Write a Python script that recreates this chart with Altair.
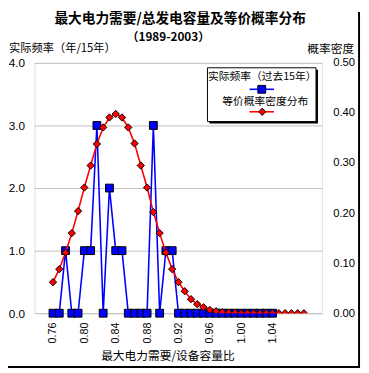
import altair as alt
import pandas as pd

# Category values (ratio of max demand / installed capacity)
ratio = [0.760, 0.768, 0.776, 0.784, 0.792, 0.800, 0.808, 0.816, 0.824, 0.832,
         0.840, 0.848, 0.856, 0.864, 0.872, 0.880, 0.888, 0.896, 0.904, 0.912,
         0.920, 0.928, 0.936, 0.944, 0.952, 0.960, 0.968, 0.976, 0.984, 0.992,
         1.000, 1.008, 1.016, 1.024, 1.032, 1.040, 1.048, 1.056, 1.064, 1.072,
         1.080]

# Actual frequency (years out of 15), first 36 categories
freq = [0, 0, 1, 0, 0, 1, 1, 3, 0, 2, 1, 1, 0, 0, 0, 0, 3, 0, 1, 1,
        0, 0, 0, 0, 0, 0, 0, 0, 0, 0, 0, 0, 0, 0, 0, 0]

# Equivalent probability density
dens = [0.062, 0.088, 0.121, 0.160, 0.204, 0.251, 0.295, 0.338, 0.371, 0.391,
        0.398, 0.391, 0.371, 0.339, 0.295, 0.251, 0.202, 0.160, 0.121, 0.088,
        0.062, 0.044, 0.028, 0.018, 0.012, 0.0065, 0.004, 0.002, 0.001, 0.001,
        0.0, 0.0, 0.0, 0.0, 0.0, 0.0, 0.0, 0.0, 0.0, 0.0, 0.0]

x_ticks = [0.76, 0.80, 0.84, 0.88, 0.92, 0.96, 1.00, 1.04]
left_ticks = [0, 1, 2, 3, 4]
right_ticks = [0.0, 0.1, 0.2, 0.3, 0.4, 0.5]

title_main = "最大电力需要/总发电容量及等价概率分布"
title_sub = "（1989-2003）"
y_left_title = "实际频率（年/15年）"
y_right_title = "概率密度"
x_title = "最大电力需要/设备容量比"
legend_labels = ["实际频率（过去15年）", "等价概率密度分布"]

CJK = "Noto Sans CJK SC"
LAT = "Liberation Sans"

blue_df = pd.DataFrame({"r": ratio[:len(freq)], "freq": freq})
red_df = pd.DataFrame({"r": ratio, "dens": dens})

xscale = alt.Scale(domain=[0.7363, 1.1029], nice=False, zero=False)
xenc = alt.X("r:Q", scale=xscale,
             axis=alt.Axis(values=x_ticks, format=".2f", labelAngle=270,
                           ticks=False, tickSize=0, grid=False, domain=False,
                           labelPadding=9, labelFont=LAT, labelFontSize=11,
                           labelColor="black", title=None, labelFlush=False))

yl = alt.Y("freq:Q", scale=alt.Scale(domain=[0, 4], nice=False),
           axis=alt.Axis(values=left_ticks, format=".1f", ticks=False, tickSize=0,
                         domain=False, grid=True, gridColor="#c0c0c0", gridWidth=1,
                         labelPadding=10, labelFont=LAT, labelFontSize=12,
                         labelColor="black", title=None))
yr = alt.Y("dens:Q", scale=alt.Scale(domain=[0, 0.5], nice=False),
           axis=alt.Axis(values=right_ticks, format=".2f", orient="right",
                         ticks=False, tickSize=0, domain=False, grid=False,
                         labelPadding=11, labelFont=LAT, labelFontSize=11.5,
                         labelColor="black", title=None))

blue_base = alt.Chart(blue_df).encode(x=xenc, y=yl)
blue = alt.layer(
    blue_base.mark_line(color="#0000ff", strokeWidth=1.6),
    blue_base.mark_point(shape="square", filled=True, fill="#0000ff",
                         stroke="black", strokeWidth=1, size=64, opacity=1),
)

red_base = alt.Chart(red_df).encode(x=xenc, y=yr)
red = alt.layer(
    red_base.mark_line(color="#ff0000", strokeWidth=1.6, clip=True),
    red_base.mark_point(shape="diamond", filled=True, fill="#ff0000",
                        stroke="black", strokeWidth=1, size=55, opacity=1, clip=True),
)

one = pd.DataFrame({"a": [0]})


def txt(s, x, y, size, align="center", bold=False, font=CJK):
    return alt.Chart(one).mark_text(
        text=s, align=align, baseline="middle", fontSize=size, font=font,
        fontWeight="bold" if bold else "normal", color="black"
    ).encode(x=alt.value(x), y=alt.value(y))


def rect(x, x2, y, y2, fill, stroke=None, sw=0):
    kw = dict(fill=fill)
    if stroke:
        kw.update(stroke=stroke, strokeWidth=sw)
    return alt.Chart(one).mark_rect(**kw).encode(
        x=alt.value(x), x2=alt.value(x2), y=alt.value(y), y2=alt.value(y2))


def hline(x, x2, y, color, w):
    return alt.Chart(one).mark_rule(color=color, strokeWidth=w).encode(
        x=alt.value(x), x2=alt.value(x2), y=alt.value(y))


def vline(x, y, y2, color, w):
    return alt.Chart(one).mark_rule(color=color, strokeWidth=w).encode(
        x=alt.value(x), y=alt.value(y), y2=alt.value(y2))


def sym(x, y, shape, fill, size):
    return alt.Chart(one).mark_point(shape=shape, filled=True, fill=fill,
                                     stroke="black", strokeWidth=1, size=size,
                                     opacity=1).encode(x=alt.value(x), y=alt.value(y))


legend = alt.layer(
    rect(179, 290, 7, 62, "black"),
    rect(177, 288, 5, 60, "white", "black", 1),
    txt(legend_labels[0], 233, 15, 11),
    hline(220, 245, 27, "#0000ff", 1.6),
    sym(232.5, 27, "square", "#0000ff", 64),
    txt(legend_labels[1], 236, 40, 11),
    hline(220, 245, 50, "#ff0000", 1.6),
    sym(233, 50, "diamond", "#ff0000", 55),
)

texts = alt.layer(
    txt(title_main, 149, -45, 14, bold=True),
    txt(title_sub, 137, -26.5, 12, bold=True),
    txt(y_left_title, -26, -14, 11.5, align="left"),
    txt(y_right_title, 327, -14, 12, align="right"),
    txt(x_title, 136.5, 300, 12),
    vline(332, -52, 312, "black", 2),
    hline(-27, 333, 311, "black", 2),
)

chart = alt.layer(blue, red, legend, texts).resolve_scale(y="independent").properties(
    width=294, height=256,
    padding={"left": 27, "top": 52, "right": 40, "bottom": 57},
    autosize=alt.AutoSizeParams(type="none"),
).configure_view(stroke="black", strokeWidth=2).configure(background="white")

chart.save("out.html", embed_options={"renderer": "svg", "actions": False})
